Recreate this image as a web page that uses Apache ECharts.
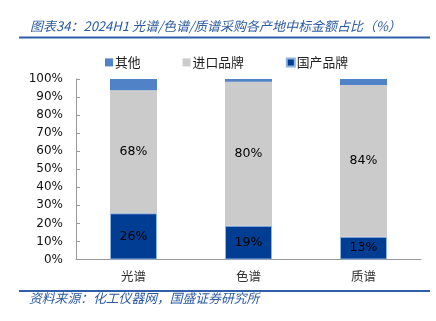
<!DOCTYPE html>
<html><head><meta charset="utf-8">
<script src="https://cdn.jsdelivr.net/npm/echarts@6/dist/echarts.min.js"></script>
<style>html,body{margin:0;padding:0;background:#fff}#c{width:436px;height:321px}</style>
</head><body><div id="c"></div>
<script>
const categories = ['光谱', '色谱', '质谱'];
const domestic = [25.6, 18.7, 12.6];
const imported = [68.1, 79.8, 84.1];
const others = [6.3, 1.5, 3.3];
const yTicks = [0, 10, 20, 30, 40, 50, 60, 70, 80, 90, 100];

const CJK = '"Noto Sans CJK SC", sans-serif';
const NUM = '"DejaVu Sans", sans-serif';
const chart = echarts.init(document.getElementById('c'));
const lbl = {
  show: true, position: 'inside', color: '#000', fontSize: 12.5, fontFamily: NUM,
  formatter: p => Math.round(p.value) + '%'
};
chart.setOption({
  animation: false,
  title: {
    text: '图表34：2024H1 光谱/色谱/质谱采购各产地中标金额占比（%）',
    left: 25, top: 15,
    textStyle: { color: '#2b5aa0', fontSize: 13, fontStyle: 'italic', fontWeight: 'normal', fontFamily: CJK }
  },
  graphic: [
    { type: 'line', shape: { x1: 19, y1: 37.5, x2: 430, y2: 37.5 }, style: { stroke: '#2e5fa8', lineWidth: 2 } },
    { type: 'line', shape: { x1: 19, y1: 291, x2: 430, y2: 291 }, style: { stroke: '#2e5fa8', lineWidth: 2 } },
    { type: 'text', left: 29, top: 292, style: { text: '资料来源：化工仪器网，国盛证券研究所', fill: '#2b5aa0', font: 'italic 12.8px "Noto Sans CJK SC"' } }
  ],
  legend: {
    top: 51, left: 100, itemWidth: 8, itemHeight: 8, itemGap: 42,
    icon: 'rect',
    data: ['其他', '进口品牌', '国产品牌'],
    textStyle: { fontSize: 12.8, color: '#222', fontFamily: CJK, padding: [0, 0, 0, -3] }
  },
  grid: { left: 76, right: 15, top: 79, bottom: 61.5 },
  xAxis: {
    type: 'category', data: categories,
    axisLine: { lineStyle: { color: '#999' } },
    axisTick: { inside: true, length: 4, lineStyle: { color: '#999' } },
    axisLabel: { color: '#333', fontSize: 12.5, fontFamily: CJK, margin: 10 }
  },
  yAxis: {
    type: 'value', min: yTicks[0], max: yTicks[yTicks.length - 1], interval: 10,
    axisLine: { show: true, lineStyle: { color: '#999' } },
    axisTick: { show: true, inside: true, length: 4, lineStyle: { color: '#999' } },
    splitLine: { show: false },
    axisLabel: { color: '#111', fontSize: 12, fontFamily: NUM, margin: 13, formatter: '{value}%' }
  },
  series: [
    { name: '国产品牌', type: 'bar', stack: 's', data: domestic, barWidth: 47,
      itemStyle: { color: '#003d93', borderColor: '#8db3e2', borderWidth: 1 }, label: lbl },
    { name: '进口品牌', type: 'bar', stack: 's', data: imported, barWidth: 47,
      itemStyle: { color: '#cbcbcb' }, label: lbl },
    { name: '其他', type: 'bar', stack: 's', data: others, barWidth: 47,
      itemStyle: { color: '#4f82c6' } }
  ]
});
</script></body></html>
